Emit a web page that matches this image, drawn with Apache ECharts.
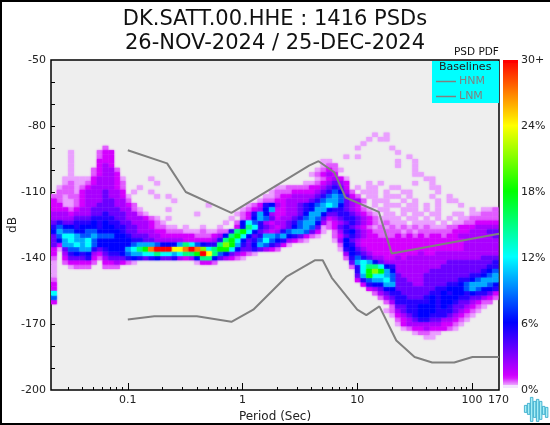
<!DOCTYPE html>
<html><head><meta charset="utf-8">
<style>html,body{margin:0;padding:0;background:#fff}#c{width:550px;height:425px}</style>
<script src="https://cdn.jsdelivr.net/npm/echarts@6/dist/echarts.min.js"></script>
</head><body><div id="c"></div>
<script>
const titleText = "DK.SATT.00.HHE : 1416 PSDs\n26-NOV-2024 / 25-DEC-2024";
const hnmPeriods = [0.1,0.22,0.32,0.8,3.8,4.6,6.3,7.9,15.4,20,172];
const hnmValues = [-91,-97,-110,-119.5,-98,-96,-101,-112.5,-119,-138,-129];
const lnmPeriods = [0.1,0.17,0.4,0.8,1.24,2.4,4.3,5,6,10,12,15.6,21.9,31.6,45,70,101,172];
const lnmValues = [-168,-166.5,-166.5,-169,-163.5,-148.6,-141,-141,-149,-163.5,-166,-162,-177.5,-185,-187.5,-187.5,-185,-185];
const xMajor = [0.1,1,10,100];
const xLabels = [0.1,1,10,100,170];
const xMinor = [0.03,0.04,0.05,0.06,0.07,0.08,0.09,0.2,0.3,0.4,0.5,0.6,0.7,0.8,0.9,2,3,4,5,6,7,8,9,20,30,40,50,60,70,80,90];
const yLabels = [-200,-170,-140,-110,-80,-50];
const yTicks = [-190,-180,-170,-160,-150,-140,-130,-120,-110,-100,-90,-80,-70,-60];
const barLabels = [0,6,12,18,24,30];
const periodEdges = [.0214,.0240,.0269,.0302,.0339,.0380,.0427,.0479,.0537,.0603,.0676,.0759,.0851,.0955,.107,.120,.135,.151,.170,.191,.214,.240,.269,.302,.339,.380,.427,.479,.537,.603,.676,.759,.851,.955,1.07,1.20,1.35,1.51,1.70,1.91,2.14,2.40,2.69,3.02,3.39,3.80,4.27,4.79,5.37,6.03,6.76,7.59,8.51,9.55,10.7,12.0,13.5,15.1,17.0,19.1,21.4,24.0,26.9,30.2,33.9,38.0,42.7,47.9,53.7,60.3,67.6,75.9,85.1,95.5,107,120,135,151,170];
const levelPercents = {a:0.3,b:0.6,c:1,d:2,e:3.5,f:5,g:6,h:8,i:10,j:12,k:15,l:18,m:21,n:24,o:27,p:30};
const barColors = ['#f4e4ff','#d400ff','#aa00ff','#8000ff','#5500ff','#2a00ff','#0000ff','#002aff','#0055ff','#0080ff','#00aaff','#00d4ff','#00ffff','#00ffd4','#00ffaa','#00ff80','#00ff55','#00ff2a','#00ff00','#2aff00','#55ff00','#80ff00','#aaff00','#d4ff00','#ffff00','#ffd400','#ffaa00','#ff8000','#ff5500','#ff2a00','#ff0000'];
const topRowDb = -84;
const pdfRows = [
".......... .......... .......... .......... .......... ......a.a. .......... ........",
".......... .......... .......... .......... .......... .....a.aa. .......... ........",
".......... .......... .......... .......... .......... ....a..... .......... ........",
".........b .......... .......... .......... .......... ...a.....a .......... ........",
"...a....bc c......... .......... .......... .......... .......... a......... ........",
"...a....bc c......... .......... .......... .......... .a.a...... ..a....... ........",
"...a....cc c......... .......... .......... .......aa. .......... a..a...... ........",
"...a....cd c......... .......... .......... .......abb .......... a..a...... ........",
"...a...bcd db........ .......... .......... ......abcb a......... ...a...... ........",
"...a...bcd dc........ .......... .......... .....abcdc .......... ...aa..... ........",
"..aaaaacdd dca....a.. .......... .......... ......abcd ca........ .....aa... ........",
"..abaabcdd dcb.....a. .......... .......... ....aabcde dc...a.a.. ...a..a... ........",
".abbabcddd dcb..a.... .......... .........a abbbbccdef ec.a.aa..a a.....aa.. ........",
".bbbacddde ddc.a..a.. .......... ........ab bbccccdefh gdb.aaa.a. .aa....a.. ........",
"bbabbcddde ddca....a. a......... .......aab ccddddefhi hecb.aa.aa a.a...a..a ........",
"cbaabcddde eddb...... .a........ ......abbc cddddefhii heddb.aaa. .a.a...a.a a.......",
"ccaabcddee eddcb..... .......a.. ....abcfgd cddefghiji gedca.a.aa a.aa.a.a.. .a......",
"cccbcddeee eeddba.... a......... ...abcdgic cddefgiigf fedcba.aa. .aaa.a.a.. ...a.aab",
"dddcdddeef eeeddba... .....a.... ..abcfigdc cddegiigee ffedcba.aa .a.aa.aa.. aa.aabbb",
"ddddeeefff feedddcba. a......... .a.bcgihec ddefhihecd effedcbaaa a.aa.a.a.a .aabbbbb",
"efeefffgfg ffeedddcba .......... a.bgjhfdcd defhiigdbc defedcbaba aa.aaaa.a. aabbcccc",
"fhggfgggfg gffeeddcbb aa.a..a..a ..cgkjfedc deghiheabc efedcbabab abababaaab bcccdddd",
"gihhgghhgg ggfeedddcc bbbaaabaab bfkljgedcd fhiiheca.b dfgedcbbbb bababbbbbb cccdddee",
"ehjjihhihh hggfeeeddc cccccbbbcd gkljgefiih igfecba..b cefedccbbb cbcbcbccbc cdddddde",
"egijiijhgg ggggffeedd dddcccccdf kljgefhjhg fdcba....a dgedcccccc cccccccccc ccdddddd",
"eciijijhgg gggghiiihg ggikjhgffk mlifegihfe ca........ bgfdcccccc cccccccccc ccdddddd",
"caehhiifef gggijklopp pnnopomjkl ljgeefedcb .......... afgedccccc cccccccccc ccdddddd",
"c.dfgfgdce ffghiijjkj jijkklpnkh gedcba.... .......... .dgfedcccc ccccdccddd dddddddd",
"b.ceeefcbd eeefgfefge efdcdgkkge dcba...... .......... .bfhfeddcc dcdddddddd dddddeee",
"a.bccccb.c cdcba..... .....accb. .......... .......... ..eijigedd ddddddddde eeeeeeef",
"a..abbb..b bb........ .......... .......... .......... ..bfjkkjgf ddddddddee eeeeeeff",
"a......... .......... .......... .......... .......... ...fjlmlig ddddddeeee eeeeefgh",
"a......... .......... .......... .......... .......... ...eiljjih eddddeeeee eeeffghi",
"b......... .......... .......... .......... .......... ...cfhiijh eedddeeeee effghiii",
"c......... .......... .......... .......... .......... ....cfggii eeeddeeeef fghiiihg",
"c......... .......... .......... .......... .......... .....cdegg eeeeeeeffg gghihggf",
"j......... .......... .......... .......... .......... ......bdef feeeeeffgf ggfgffec",
"h......... .......... .......... .......... .......... .......bde ffeeefgfgg gffeedcb",
"c......... .......... .......... .......... .......... ........bd ffffffgfgg feedcbb.",
".......... .......... .......... .......... .......... .........b eeffgggfgf eedcba..",
".......... .......... .......... .......... .......... ........ab deffgggfff edcba...",
".......... .......... .......... .......... .......... .........a cdefggfffe dcba....",
".......... .......... .......... .......... .......... .......... bcdeffeedd cba.....",
".......... .......... .......... .......... .......... .......... acddddddcc ba......",
".......... .......... .......... .......... .......... .......... .abccdcccb a.......",
".......... .......... .......... .......... .......... .......... ...abbaa.. ........",
".......... .......... .......... .......... .......... .......... .....aa... ........"
];

const cells = [];
pdfRows.forEach((row, r) => {
  row.replace(/ /g, '').split('').forEach((ch, c) => {
    if (levelPercents[ch] !== undefined) {
      cells.push([periodEdges[c], topRowDb - 2 * r, levelPercents[ch], periodEdges[c + 1]]);
    }
  });
});
cells.sort((p, q) => p[2] - q[2]);
const pairs = (xs, ys) => xs.map((x, i) => [x, ys[i]]);
const FONT = '"DejaVu Sans"';
const DARK = '#222';

const chart = echarts.init(document.getElementById('c'), null, {renderer: 'canvas'});
chart.setOption({
  animation: false,
  textStyle: {fontFamily: FONT},
  title: {text: titleText, left: 'center', top: 3, itemGap: 0,
    textStyle: {fontFamily: FONT, fontSize: 21, fontWeight: 'normal', color: '#111', lineHeight: 24}},
  legend: {
    data: ['HNM', 'LNM'], orient: 'vertical', left: 432, top: 61, backgroundColor: '#00ffff',
    padding: [15, 14, 1, 4], icon: 'rect', itemWidth: 20, itemHeight: 1.5, itemGap: 4, selectedMode: false,
    itemStyle: {color: '#808080'},
    textStyle: {fontFamily: FONT, fontSize: 11, color: '#808080', padding: [0, 0, 0, -2]}
  },
  grid: [
    {left: 51, top: 60, width: 448, height: 330, outerBoundsMode: 'none', show: true, backgroundColor: '#eeeeee', borderColor: '#000', borderWidth: 1.5},
    {left: 503, top: 60, width: 15, height: 330, outerBoundsMode: 'none', show: false}
  ],
  xAxis: [
    {type: 'log', logBase: 10, gridIndex: 0, min: 0.0214, max: 172, position: 'bottom',
     name: 'Period (Sec)', nameLocation: 'middle', nameGap: 18,
     nameTextStyle: {fontFamily: FONT, fontSize: 12, color: DARK},
     splitLine: {show: false}, axisLine: {show: false},
     axisTick: {inside: true, length: 7, lineStyle: {color: '#000'}, customValues: xMajor},
     axisLabel: {fontFamily: FONT, fontSize: 11, color: DARK, margin: 5, hideOverlap: false, customValues: xLabels,
       formatter: v => String(v)}},
    {type: 'log', logBase: 10, gridIndex: 0, min: 0.0214, max: 172, position: 'bottom',
     splitLine: {show: false}, axisLine: {show: false}, axisLabel: {show: false},
     axisTick: {inside: true, length: 3, lineStyle: {color: '#000'}, customValues: xMinor}},
    {type: 'value', gridIndex: 1, show: false, min: 0, max: 1}
  ],
  yAxis: [
    {type: 'value', gridIndex: 0, min: -200, max: -50,
     name: 'dB', nameLocation: 'middle', nameGap: 32, nameMoveOverlap: false,
     nameTextStyle: {fontFamily: FONT, fontSize: 12, color: DARK},
     splitLine: {show: false}, axisLine: {show: false},
     axisTick: {inside: true, length: 4, lineStyle: {color: '#000'}, customValues: yTicks},
     axisLabel: {fontFamily: FONT, fontSize: 11, color: DARK, margin: 5, customValues: yLabels}},
    {type: 'value', gridIndex: 1, min: 0, max: 30, position: 'right',
     splitLine: {show: false}, axisLine: {show: false}, axisTick: {show: false},
     axisLabel: {fontFamily: FONT, fontSize: 11, color: DARK, margin: 3, customValues: barLabels,
       alignMinLabel: 'bottom', alignMaxLabel: 'top',
       formatter: v => v === 30 ? '30+' : v + '%'}}
  ],
  visualMap: {
    type: 'continuous', seriesIndex: 0, dimension: 2, min: 0, max: 30,
    left: 503, top: 60, itemWidth: 15, itemHeight: 328, padding: 0,
    calculable: false, hoverLink: false, inRange: {color: barColors}
  },
  series: [
    {type: 'custom', xAxisIndex: 0, yAxisIndex: 0, data: cells, encode: {x: 0, y: 1}, progressive: 0, silent: true, clip: true,
     renderItem: (params, api) => {
       const a = api.coord([api.value(0), api.value(1) + 1]);
       const b = api.coord([api.value(3), api.value(1) - 1]);
       const color = api.visual('color');
       return {type: 'rect', shape: {x: a[0], y: a[1], width: b[0] - a[0], height: b[1] - a[1]},
         style: {fill: color, shadowBlur: 2, shadowColor: color}};
     }},
    {type: 'line', name: 'HNM', xAxisIndex: 0, yAxisIndex: 0, data: pairs(hnmPeriods, hnmValues), symbol: 'none', z: 5,
     itemStyle: {color: '#808080'}, lineStyle: {color: '#808080', width: 2}},
    {type: 'line', name: 'LNM', xAxisIndex: 0, yAxisIndex: 0, data: pairs(lnmPeriods, lnmValues), symbol: 'none', z: 5,
     itemStyle: {color: '#808080'}, lineStyle: {color: '#808080', width: 2}}
  ],
  graphic: {elements: [
    {type: 'text', left: 454, top: 47, z: 20, style: {text: 'PSD PDF', fontFamily: FONT, fontSize: 10.5, fill: '#111'}},
    {type: 'text', left: 439, top: 62, z: 20, style: {text: 'Baselines', fontFamily: FONT, fontSize: 11, fill: '#222'}},
    {type: 'rect', left: 503, top: 60, z: 20, shape: {width: 15, height: 3}, style: {fill: '#ff0000'}},
    {type: 'rect', left: 503, top: 385, z: 20, shape: {width: 15, height: 3}, style: {fill: '#f4e4ff'}},
    {type: 'rect', left: 0, top: 0, z: 20, shape: {width: 2, height: 425}, style: {fill: '#000'}},
    {type: 'rect', left: 0, top: 423, z: 20, shape: {width: 550, height: 2}, style: {fill: '#000'}},
    {type: 'rect', left: 0, top: 0, z: 20, shape: {width: 550, height: 2}, style: {fill: '#000'}},
    {type: 'group', left: 524, top: 397, z: 20, children: [[0,8,7],[3,6,11],[6,0,24],[9,4,16],[12,2,22],[15,4,18],[18,9,8],[21,10,10]].map(b => ({
      type: 'rect', shape: {x: b[0], y: b[1], width: 2.5, height: b[2]},
      style: {fill: '#a8eef5', stroke: '#2aa5c8', lineWidth: 0.8}}))}
  ]}
});
</script></body></html>
